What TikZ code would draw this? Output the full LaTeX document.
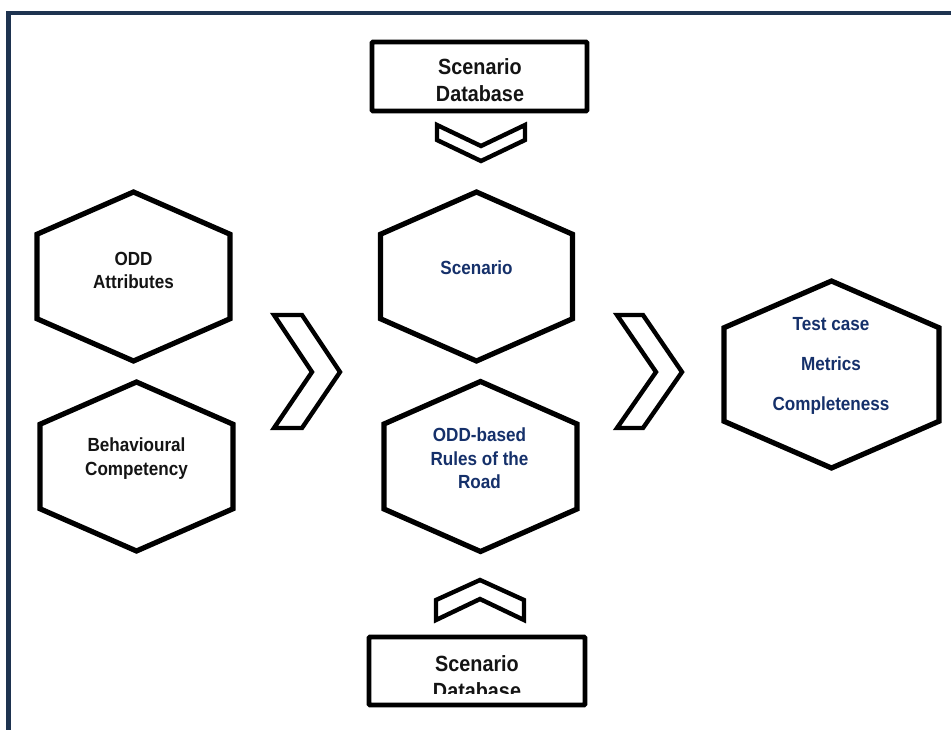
\documentclass[tikz,border=0pt]{standalone}
\usepackage{fontspec}
\setmainfont{Liberation Sans}[FakeStretch=0.9]
\definecolor{framecol}{HTML}{1E3350}
\definecolor{navy}{HTML}{15306A}
\definecolor{ink}{HTML}{141414}
\tikzset{
  outline/.style={draw=black, line width=5.2pt, line join=miter, fill=white},
  boxline/.style={draw=black, line width=4.8pt, fill=white, rounded corners=1pt},
  chev/.style={draw=black, line width=4.4pt, line join=miter, fill=white},
  dbtext/.style={inner sep=0pt, anchor=north, align=center, text=ink,
    font=\bfseries\fontsize{22}{27}\selectfont},
  hextext/.style={inner sep=0pt, anchor=north, align=center,
    font=\bfseries\fontsize{19}{23.5}\selectfont},
}
% hexagon with pointed top: centre x, centre y, half width, half height
\newcommand\hexshape[4]{%
  \draw[outline] (#1,#2-#4) -- (#1+#3,#2-#4/2) -- (#1+#3,#2+#4/2) --
    (#1,#2+#4) -- (#1-#3,#2+#4/2) -- (#1-#3,#2-#4/2) -- cycle;}
\begin{document}
\begin{tikzpicture}[x=1pt,y=-1pt]
\useasboundingbox (0,0) rectangle (951,729);
% outer frame, running past the right and lower edges
\draw[framecol, line width=4.8pt] (8.5,13) rectangle (970,745);

% database boxes
\draw[boxline] (372,42) rectangle (587,111);
\node[dbtext] (dbtop) at (480,58) {Scenario\\Database};
\draw[boxline] (369,637) rectangle (585,705);
\begin{scope}
  \clip (371,639) rectangle (583,693);
  \node[dbtext] (dbbottom) at (477,655) {Scenario\\Database};
\end{scope}

% chevrons
\draw[chev] (437,125) -- (481,146) -- (525,125) -- (525,140) -- (481,161) -- (437,140) -- cycle;
\draw[chev] (436,600) -- (480,580) -- (524,600) -- (524,620) -- (480,599) -- (436,620) -- cycle;
\draw[chev] (274,315) -- (302,315) -- (340,372) -- (302,428) -- (274,428) -- (312,372) -- cycle;
\draw[chev] (617,315) -- (643,315) -- (682,372) -- (643,428) -- (617,428) -- (656,372) -- cycle;

% hexagons
\hexshape{133.5}{276.5}{96.5}{84.5}
\hexshape{136.5}{466.5}{96.5}{84.5}
\hexshape{476.5}{276.5}{96}{84.5}
\hexshape{480.5}{466.5}{96.5}{85}
\hexshape{831.5}{374.5}{107.5}{93.5}

\node[hextext, text=ink] (odd) at (133.5,252) {ODD\\Attributes};
\node[hextext, text=ink] (beh) at (136.5,438) {Behavioural\\Competency};
\node[hextext, text=navy] (scen) at (476.5,261) {Scenario};
\node[hextext, text=navy] (rules) at (479.5,428) {ODD-based\\Rules of the\\Road};
\node[hextext, text=navy, font=\bfseries\fontsize{19}{40}\selectfont] (test) at (831,317) {Test case\\Metrics\\Completeness};
\end{tikzpicture}
\end{document}
